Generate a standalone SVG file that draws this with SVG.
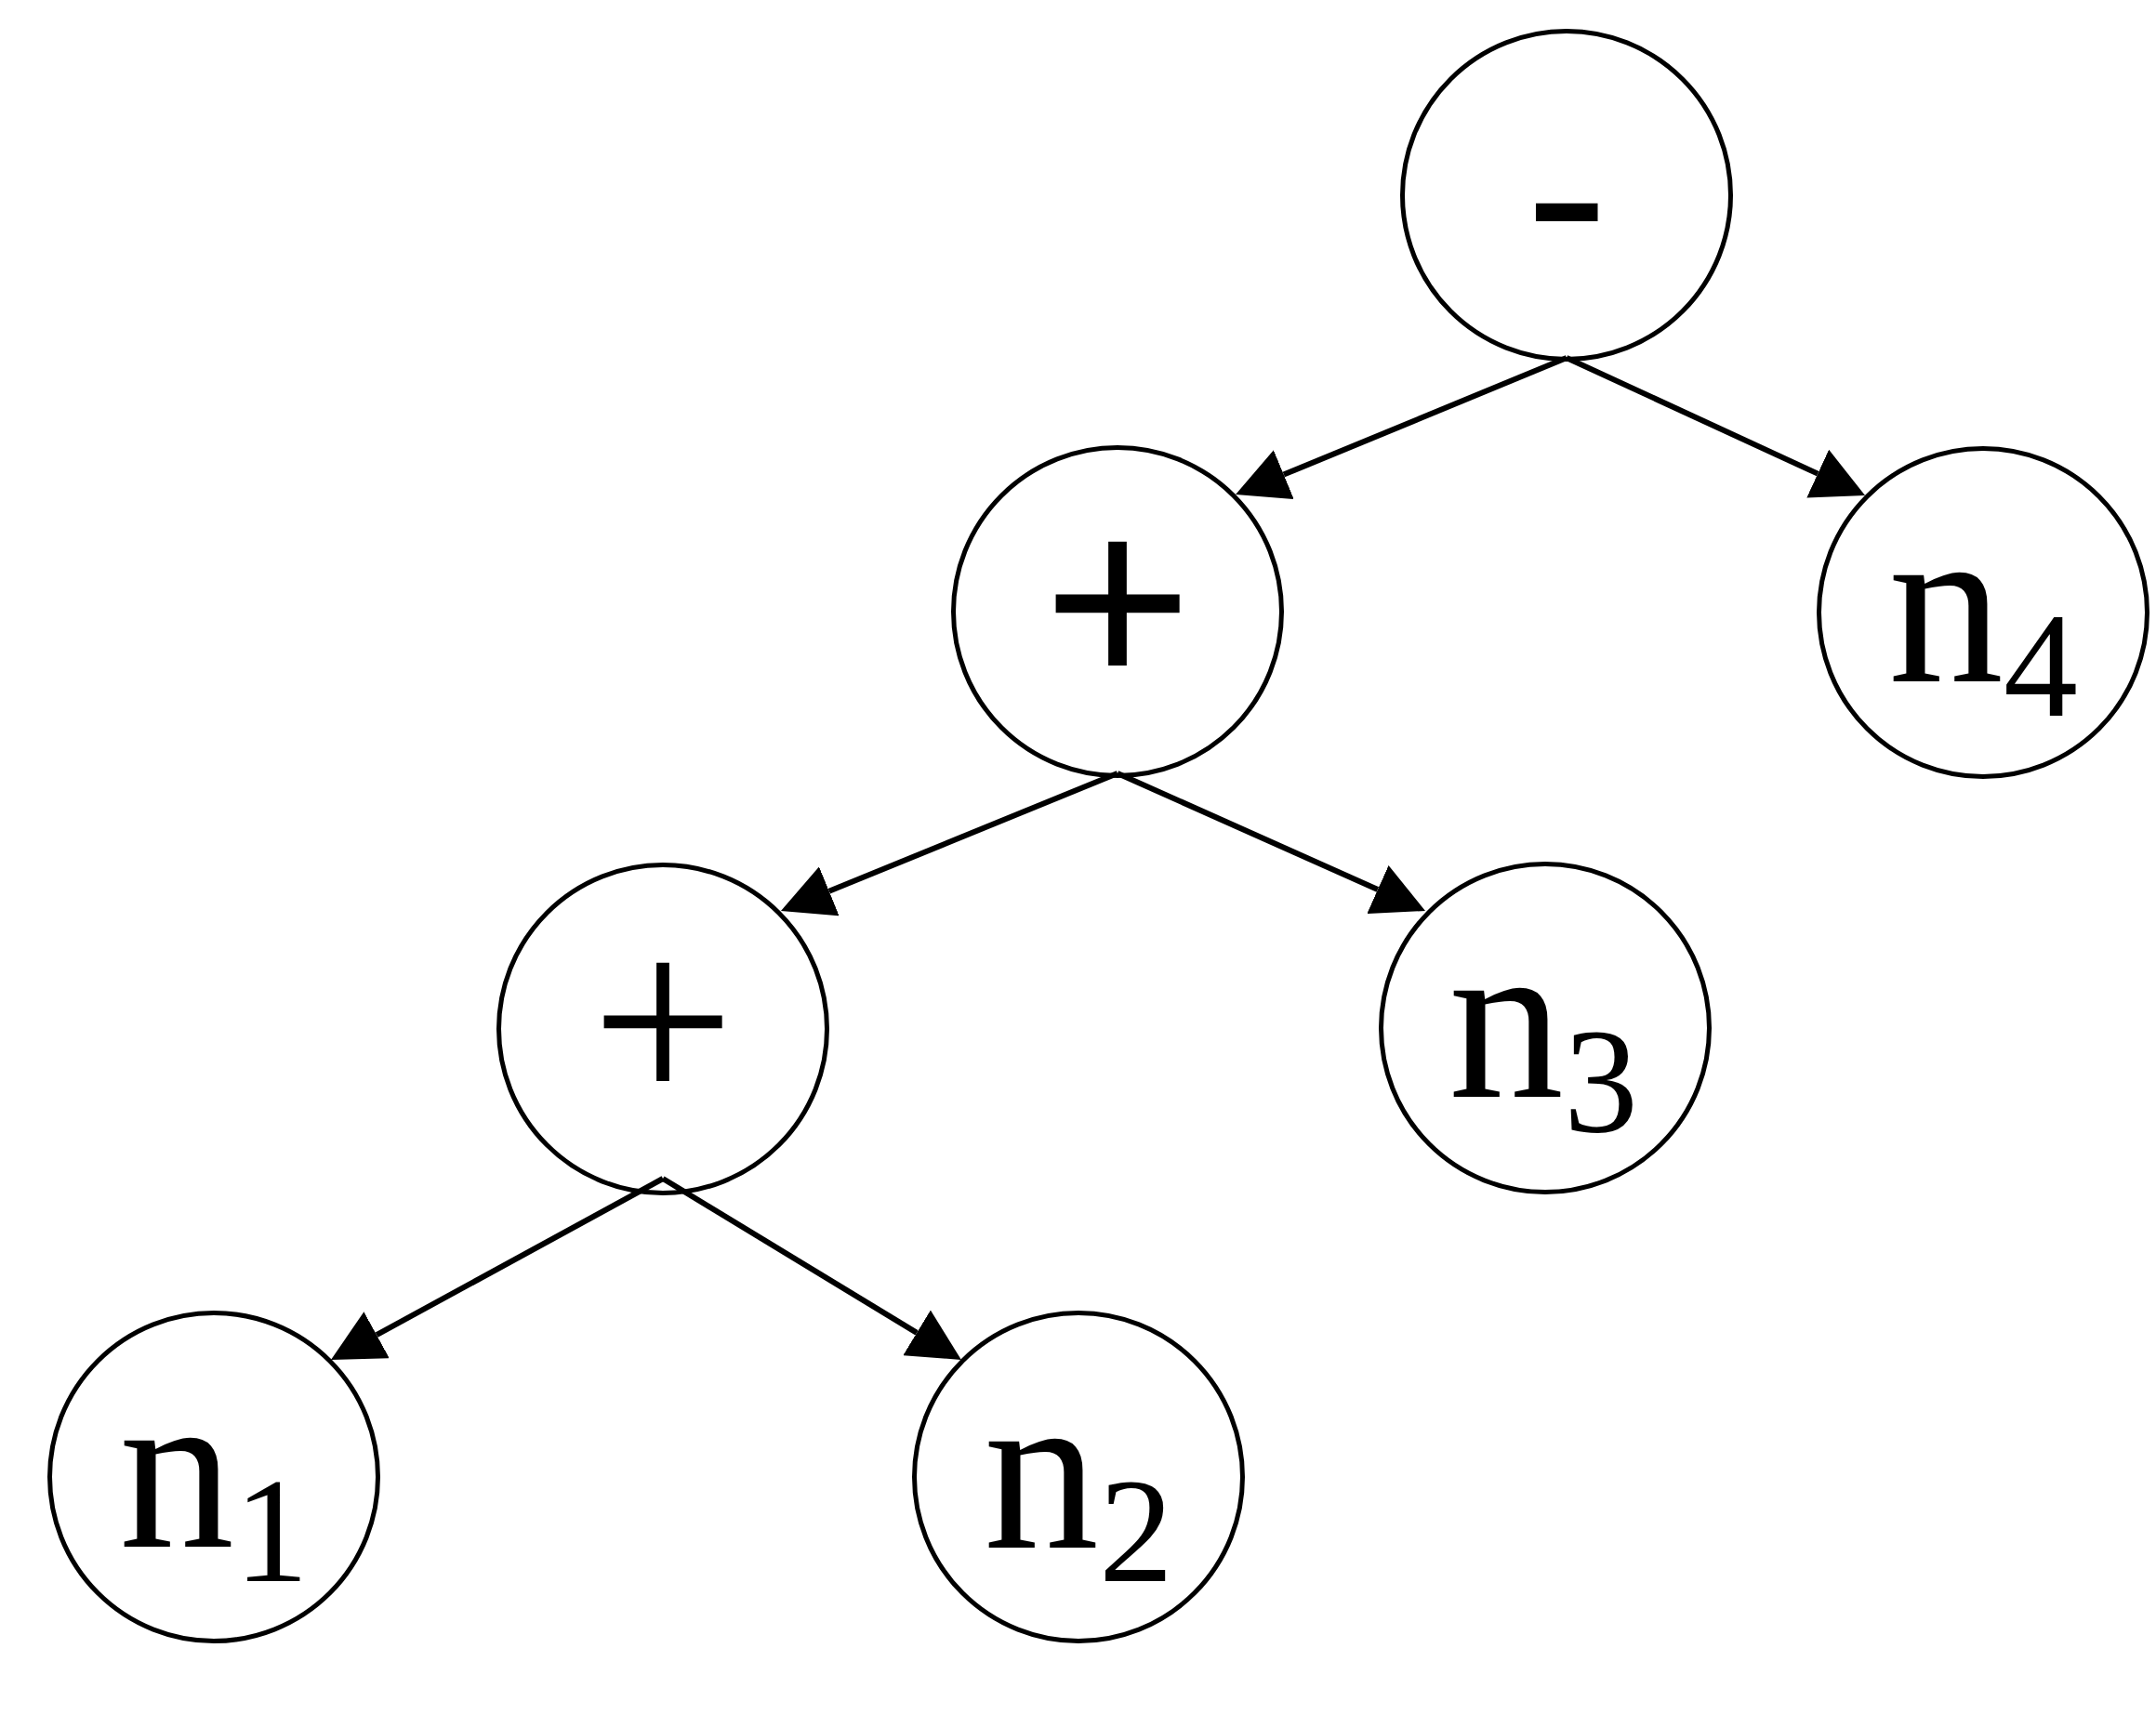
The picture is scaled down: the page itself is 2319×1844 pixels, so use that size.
<svg xmlns="http://www.w3.org/2000/svg" width="2319" height="1844" viewBox="0 0 2319 1844">
<style>
.node circle{fill:#fff;stroke:#000;stroke-width:5}
.lbl{font-family:"Liberation Serif","Times New Roman",serif;fill:#000;text-anchor:middle}
.op{font-size:256px}
.plus{font-size:273px}
.bold{stroke:#000;stroke-width:6}
.var{font-size:248px}
.sub{font-size:160px}
.edge{stroke:#000;stroke-width:6;fill:none;marker-end:url(#arrow)}
</style>
<defs>
<marker id="arrow" markerUnits="userSpaceOnUse" viewBox="0 0 56 57" markerWidth="56" markerHeight="57" refX="0" refY="28.5" orient="auto">
<path d="M0,0 L56,28.5 L0,57 z" fill="#000"/>
</marker>
</defs>
<rect width="2319" height="1844" fill="#fff"/>
<g id="node-minus" class="node">
<circle cx="1685" cy="210" r="176.5"/>
<text class="lbl op" x="1685" y="289">-</text>
</g>
<g id="node-plus1" class="node">
<circle cx="1202" cy="658" r="176.5"/>
<text class="lbl plus bold" x="1202" y="740">+</text>
</g>
<g id="node-n4" class="node">
<circle cx="2133" cy="659" r="176.5"/>
<text class="lbl var" x="2133" y="733">n<tspan class="sub" dy="37">4</tspan></text>
</g>
<g id="node-plus2" class="node">
<circle cx="713" cy="1107" r="176.5"/>
<text class="lbl plus" x="713" y="1190">+</text>
</g>
<g id="node-n3" class="node">
<circle cx="1662" cy="1106" r="176.5"/>
<text class="lbl var" x="1660" y="1180">n<tspan class="sub" dy="37">3</tspan></text>
</g>
<g id="node-n1" class="node">
<circle cx="230" cy="1589" r="176.5"/>
<text class="lbl var" x="230" y="1664">n<tspan class="sub" dy="37">1</tspan></text>
</g>
<g id="node-n2" class="node">
<circle cx="1160" cy="1589" r="176.5"/>
<text class="lbl var" x="1160" y="1665">n<tspan class="sub" dy="36">2</tspan></text>
</g>
<g id="connectors">
<line class="edge" x1="1685" y1="385" x2="1380.8" y2="510.6"/>
<line class="edge" x1="1685" y1="385" x2="1955.2" y2="509.6"/>
<line class="edge" x1="1202" y1="832" x2="891.8" y2="958.8"/>
<line class="edge" x1="1202" y1="832" x2="1481.9" y2="957.1"/>
<line class="edge" x1="713" y1="1268" x2="405.1" y2="1436.2"/>
<line class="edge" x1="713" y1="1268" x2="986.1" y2="1433.9"/>
</g>
</svg>
